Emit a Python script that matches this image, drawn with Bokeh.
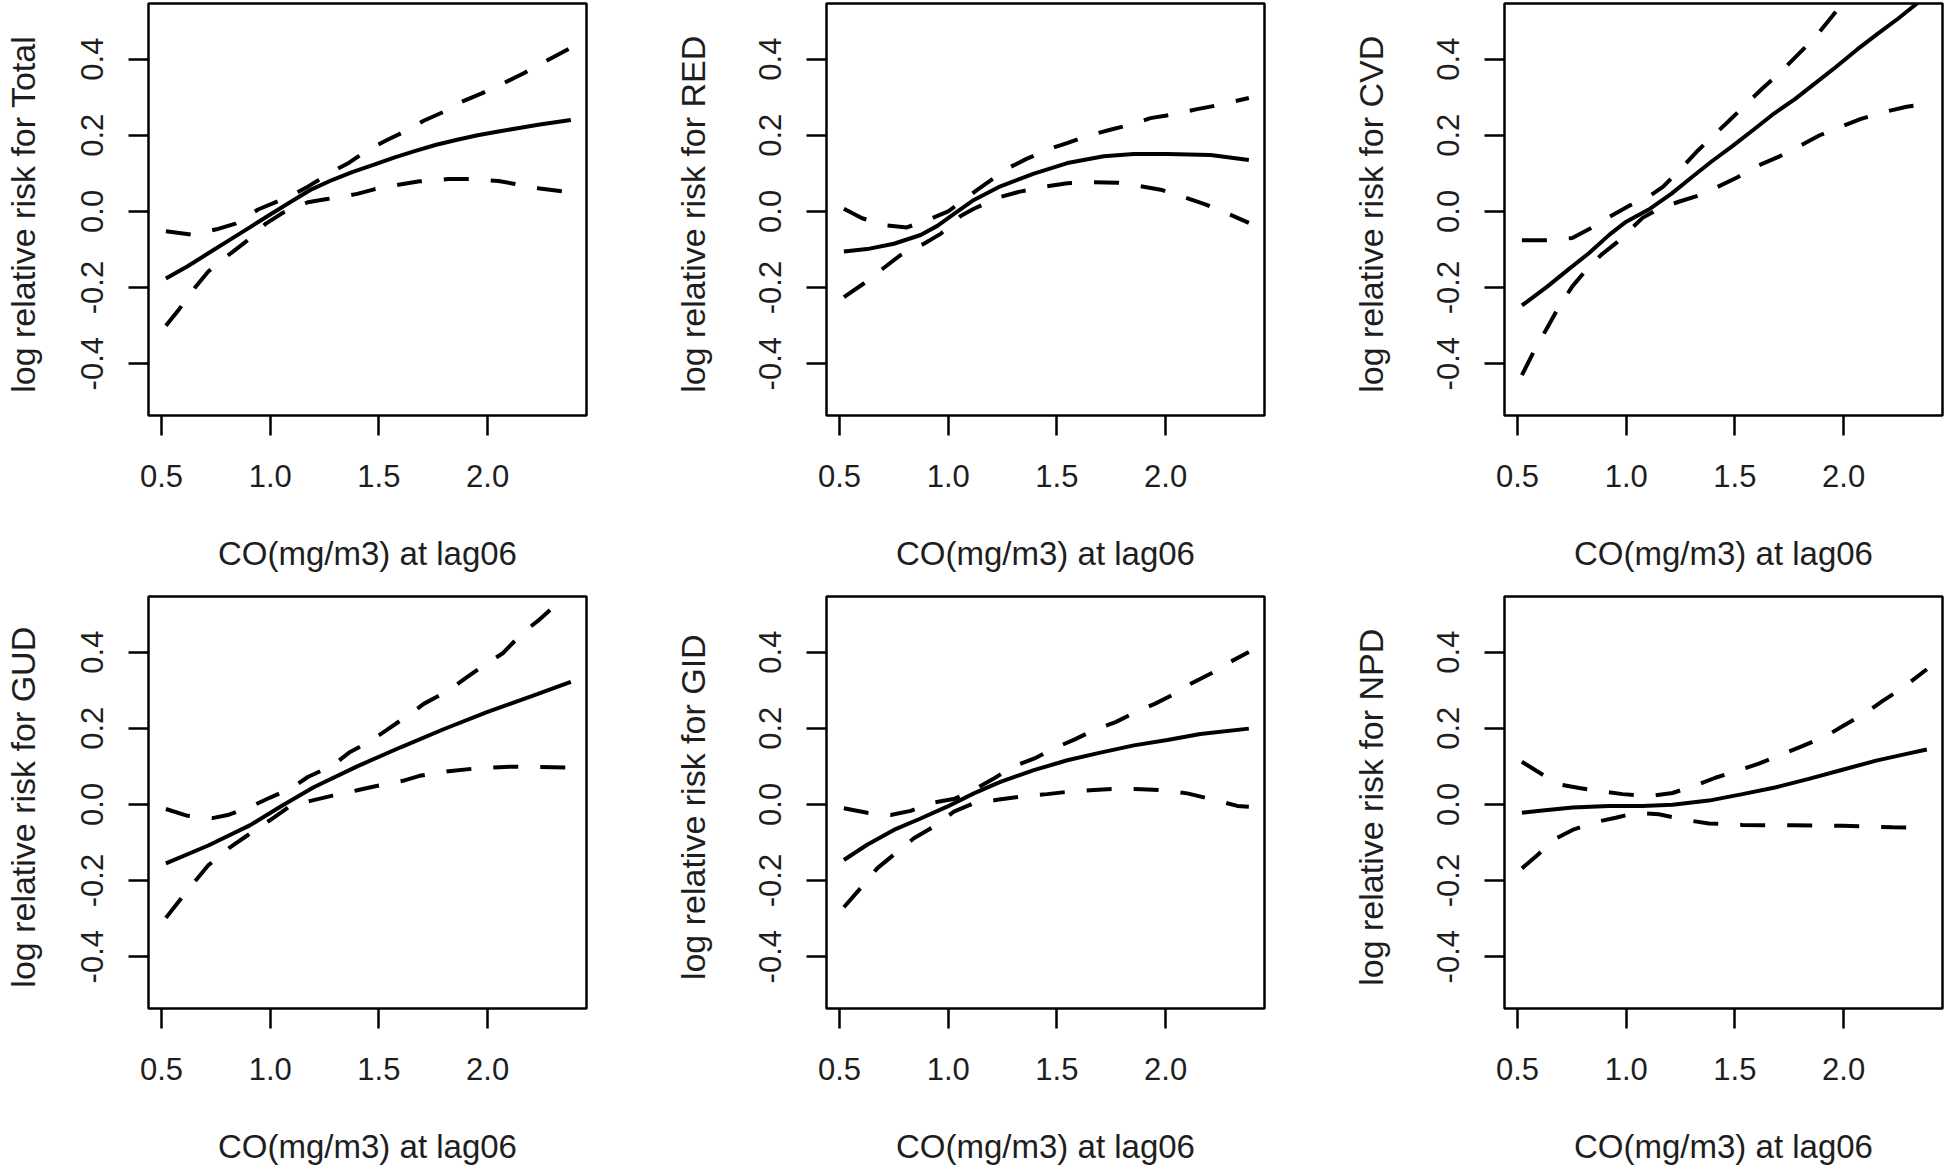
from bokeh.plotting import figure
from bokeh.layouts import column, row
from bokeh.models import FixedTicker
from bokeh.embed import file_html
from bokeh.resources import INLINE

# ---------------- data ----------------
x_ticks = [0.5, 1.0, 1.5, 2.0]
x_tick_labels = ["0.5", "1.0", "1.5", "2.0"]
y_ticks = [-0.4, -0.2, 0.0, 0.2, 0.4]
y_tick_labels = ["-0.4", "-0.2", "0.0", "0.2", "0.4"]
x_label = "CO(mg/m3) at lag06"
outcomes = ["Total", "RED", "CVD", "GUD", "GID", "NPD"]

# Total
total_fit_x = [0.52, 0.62, 0.715, 0.81, 0.906, 1.0, 1.097, 1.19, 1.287, 1.38, 1.478, 1.573, 1.668, 1.764, 1.86, 1.954, 2.05, 2.145, 2.24, 2.383]
total_fit_y = [-0.176, -0.144, -0.11, -0.076, -0.042, -0.008, 0.026, 0.058, 0.083, 0.104, 0.123, 0.142, 0.159, 0.175, 0.188, 0.2, 0.21, 0.219, 0.228, 0.24]
total_hi_x = [0.52, 0.64, 0.753, 0.84, 0.944, 1.097, 1.173, 1.287, 1.363, 1.44, 1.535, 1.63, 1.706, 1.80, 1.878, 1.973, 2.05, 2.164, 2.24, 2.383]
total_hi_y = [-0.052, -0.061, -0.047, -0.032, 0.005, 0.041, 0.065, 0.105, 0.128, 0.158, 0.187, 0.213, 0.238, 0.262, 0.287, 0.31, 0.33, 0.362, 0.386, 0.43]
total_lo_x = [0.52, 0.582, 0.658, 0.715, 0.80, 0.887, 0.98, 1.06, 1.173, 1.268, 1.40, 1.478, 1.59, 1.687, 1.82, 1.916, 2.05, 2.126, 2.24, 2.383]
total_lo_y = [-0.3, -0.256, -0.197, -0.158, -0.118, -0.08, -0.032, -0.003, 0.024, 0.033, 0.046, 0.058, 0.07, 0.079, 0.085, 0.085, 0.08, 0.072, 0.06, 0.05]

# RED
red_fit_x = [0.52, 0.627, 0.75, 0.873, 0.95, 1.03, 1.118, 1.24, 1.394, 1.548, 1.716, 1.854, 2.008, 2.207, 2.383]
red_fit_y = [-0.105, -0.099, -0.085, -0.062, -0.038, -0.005, 0.03, 0.066, 0.099, 0.127, 0.145, 0.151, 0.151, 0.148, 0.135]
red_hi_x = [0.52, 0.604, 0.72, 0.81, 0.92, 1.0, 1.13, 1.27, 1.36, 1.47, 1.55, 1.65, 1.75, 1.854, 1.93, 2.05, 2.14, 2.25, 2.383]
red_hi_y = [0.007, -0.018, -0.037, -0.042, -0.019, 0.0, 0.055, 0.112, 0.138, 0.165, 0.18, 0.2, 0.215, 0.23, 0.245, 0.256, 0.268, 0.28, 0.298]
red_lo_x = [0.52, 0.61, 0.70, 0.78, 0.888, 0.965, 1.057, 1.118, 1.24, 1.33, 1.455, 1.548, 1.655, 1.78, 1.885, 1.977, 2.08, 2.176, 2.27, 2.383]
red_lo_y = [-0.225, -0.19, -0.15, -0.115, -0.085, -0.059, -0.012, 0.007, 0.038, 0.052, 0.066, 0.074, 0.077, 0.075, 0.066, 0.057, 0.038, 0.02, -0.002, -0.03]

# CVD
cvd_fit_x = [0.52, 0.638, 0.733, 0.828, 0.923, 1.0, 1.11, 1.207, 1.30, 1.397, 1.49, 1.587, 1.68, 1.776, 1.87, 1.966, 2.06, 2.156, 2.25, 2.383]
cvd_fit_y = [-0.247, -0.197, -0.153, -0.11, -0.061, -0.027, 0.007, 0.046, 0.089, 0.133, 0.172, 0.215, 0.257, 0.295, 0.337, 0.38, 0.424, 0.466, 0.506, 0.567]
cvd_hi_x = [0.52, 0.638, 0.752, 0.828, 0.942, 1.018, 1.11, 1.17, 1.264, 1.33, 1.416, 1.473, 1.558, 1.625, 1.71, 1.776, 1.862, 1.93, 2.0, 2.2, 2.383]
cvd_hi_y = [-0.076, -0.076, -0.07, -0.047, -0.008, 0.016, 0.041, 0.065, 0.12, 0.16, 0.207, 0.238, 0.285, 0.322, 0.366, 0.404, 0.453, 0.5, 0.55, 0.69, 0.82]
cvd_lo_x = [0.52, 0.572, 0.638, 0.686, 0.752, 0.81, 0.885, 0.96, 1.075, 1.15, 1.245, 1.34, 1.416, 1.51, 1.606, 1.70, 1.815, 1.89, 1.985, 2.08, 2.193, 2.29, 2.383]
cvd_lo_y = [-0.43, -0.371, -0.304, -0.255, -0.197, -0.158, -0.114, -0.08, -0.017, 0.007, 0.026, 0.043, 0.063, 0.089, 0.12, 0.143, 0.177, 0.2, 0.222, 0.243, 0.262, 0.275, 0.282]

# GUD
gud_fit_x = [0.52, 0.715, 0.906, 1.05, 1.2, 1.4, 1.6, 1.8, 2.0, 2.2, 2.383]
gud_fit_y = [-0.155, -0.108, -0.055, -0.005, 0.045, 0.1, 0.15, 0.198, 0.243, 0.284, 0.322]
gud_hi_x = [0.52, 0.62, 0.734, 0.81, 0.925, 1.0, 1.097, 1.173, 1.287, 1.363, 1.459, 1.535, 1.65, 1.706, 1.82, 1.897, 1.99, 2.07, 2.164, 2.24, 2.383]
gud_hi_y = [-0.012, -0.03, -0.036, -0.027, -0.002, 0.018, 0.042, 0.072, 0.102, 0.136, 0.166, 0.195, 0.24, 0.264, 0.299, 0.331, 0.368, 0.397, 0.452, 0.486, 0.56]
gud_lo_x = [0.52, 0.582, 0.658, 0.715, 0.81, 0.896, 1.0, 1.097, 1.19, 1.287, 1.40, 1.478, 1.61, 1.687, 1.82, 1.954, 2.107, 2.24, 2.383]
gud_lo_y = [-0.298, -0.253, -0.199, -0.16, -0.115, -0.081, -0.041, -0.002, 0.01, 0.023, 0.037, 0.047, 0.062, 0.075, 0.087, 0.095, 0.099, 0.098, 0.097]

# GID
gid_fit_x = [0.52, 0.627, 0.75, 0.873, 0.995, 1.118, 1.24, 1.394, 1.548, 1.70, 1.854, 2.008, 2.16, 2.383]
gid_fit_y = [-0.146, -0.106, -0.067, -0.037, -0.006, 0.029, 0.059, 0.09, 0.116, 0.136, 0.155, 0.169, 0.185, 0.199]
gid_hi_x = [0.52, 0.627, 0.735, 0.827, 0.934, 1.03, 1.118, 1.21, 1.30, 1.394, 1.49, 1.58, 1.67, 1.77, 1.854, 1.95, 2.04, 2.12, 2.23, 2.30, 2.383]
gid_hi_y = [-0.01, -0.022, -0.028, -0.017, 0.005, 0.015, 0.038, 0.068, 0.1, 0.12, 0.148, 0.17, 0.195, 0.216, 0.24, 0.264, 0.29, 0.318, 0.35, 0.375, 0.4]
gid_lo_x = [0.52, 0.597, 0.673, 0.758, 0.842, 0.934, 1.026, 1.118, 1.225, 1.33, 1.455, 1.548, 1.67, 1.77, 1.89, 1.99, 2.10, 2.23, 2.33, 2.383]
gid_lo_y = [-0.27, -0.22, -0.168, -0.128, -0.089, -0.058, -0.019, 0.003, 0.012, 0.02, 0.027, 0.033, 0.038, 0.041, 0.04, 0.037, 0.029, 0.011, -0.004, -0.006]

# NPD
npd_fit_x = [0.52, 0.615, 0.753, 0.92, 1.075, 1.213, 1.38, 1.535, 1.69, 1.84, 1.995, 2.15, 2.30, 2.383]
npd_fit_y = [-0.022, -0.016, -0.008, -0.004, -0.004, -0.001, 0.01, 0.027, 0.045, 0.067, 0.091, 0.115, 0.134, 0.144]
npd_hi_x = [0.52, 0.607, 0.69, 0.784, 0.89, 0.983, 1.106, 1.213, 1.32, 1.41, 1.52, 1.61, 1.72, 1.81, 1.92, 1.995, 2.10, 2.18, 2.27, 2.383]
npd_hi_y = [0.112, 0.081, 0.053, 0.043, 0.034, 0.027, 0.022, 0.03, 0.05, 0.07, 0.09, 0.107, 0.132, 0.153, 0.18, 0.205, 0.24, 0.272, 0.305, 0.355]
npd_lo_x = [0.52, 0.592, 0.669, 0.753, 0.853, 0.952, 1.044, 1.15, 1.275, 1.38, 1.535, 1.765, 1.995, 2.225, 2.383]
npd_lo_y = [-0.168, -0.133, -0.092, -0.067, -0.047, -0.035, -0.022, -0.026, -0.041, -0.05, -0.054, -0.055, -0.056, -0.06, -0.061]

series = {
    "Total": (total_fit_x, total_fit_y, total_hi_x, total_hi_y, total_lo_x, total_lo_y),
    "RED": (red_fit_x, red_fit_y, red_hi_x, red_hi_y, red_lo_x, red_lo_y),
    "CVD": (cvd_fit_x, cvd_fit_y, cvd_hi_x, cvd_hi_y, cvd_lo_x, cvd_lo_y),
    "GUD": (gud_fit_x, gud_fit_y, gud_hi_x, gud_hi_y, gud_lo_x, gud_lo_y),
    "GID": (gid_fit_x, gid_fit_y, gid_hi_x, gid_hi_y, gid_lo_x, gid_lo_y),
    "NPD": (npd_fit_x, npd_fit_y, npd_hi_x, npd_hi_y, npd_lo_x, npd_lo_y),
}

# ---------------- layout ----------------
FONT = "Liberation Sans"
TXT = "#1e1e1e"
FRAME_W, FRAME_H = 438, 412


def make_panel(name, col_idx, row_idx):
    # first column is limited by the page's left edge
    bl = 148 if col_idx == 0 else 156
    ylab_standoff = 37 if col_idx == 0 else 45
    br = 84 if col_idx < 2 else 3
    bt = 3 if row_idx == 0 else 1
    bb = 180 if row_idx == 0 else 160
    p = figure(width=bl + FRAME_W + br, height=bt + FRAME_H + bb,
               x_range=(0.44, 2.455), y_range=(-0.536, 0.546),
               output_backend="svg", toolbar_location=None,
               min_border_left=bl, min_border_right=br,
               min_border_top=bt, min_border_bottom=bb)
    p.grid.visible = False
    p.outline_line_color = "black"
    p.outline_line_width = 2.5
    p.background_fill_color = "white"
    p.border_fill_color = "white"

    fx, fy, hx, hy, lx, ly = series[name]
    p.line(fx, fy, line_color="black", line_width=4)
    p.line(hx, hy, line_color="black", line_width=4, line_dash="25 22")
    p.line(lx, ly, line_color="black", line_width=4, line_dash="25 22")

    for ax in (p.xaxis[0], p.yaxis[0]):
        ax.axis_line_color = None
        ax.major_tick_line_color = "black"
        ax.major_tick_line_width = 2.5
        ax.major_tick_out = 20
        ax.major_tick_in = 0
        ax.minor_tick_line_color = None
        ax.major_label_text_font = FONT
        ax.major_label_text_font_size = "31px"
        ax.major_label_text_color = TXT
        ax.axis_label_text_font = FONT
        ax.axis_label_text_font_style = "normal"
        ax.axis_label_text_color = TXT

    p.xaxis.ticker = FixedTicker(ticks=x_ticks)
    p.xaxis.major_label_overrides = dict(zip(x_ticks, x_tick_labels))
    p.xaxis.major_label_standoff = 29
    p.xaxis.axis_label = x_label
    p.xaxis.axis_label_text_font_size = "33px"
    p.xaxis.axis_label_standoff = 45

    p.yaxis.ticker = FixedTicker(ticks=y_ticks)
    p.yaxis.major_label_overrides = dict(zip(y_ticks, y_tick_labels))
    p.yaxis.major_label_orientation = "vertical"
    p.yaxis.major_label_standoff = 25
    p.yaxis.axis_label = "log relative risk  for " + name
    p.yaxis.axis_label_text_font_size = "34px"
    p.yaxis.axis_label_standoff = ylab_standoff
    return p


panels = [make_panel(n, i % 3, i // 3) for i, n in enumerate(outcomes)]
layout = column(row(*panels[:3]), row(*panels[3:]))

open("out.html", "w").write(file_html(layout, INLINE))
